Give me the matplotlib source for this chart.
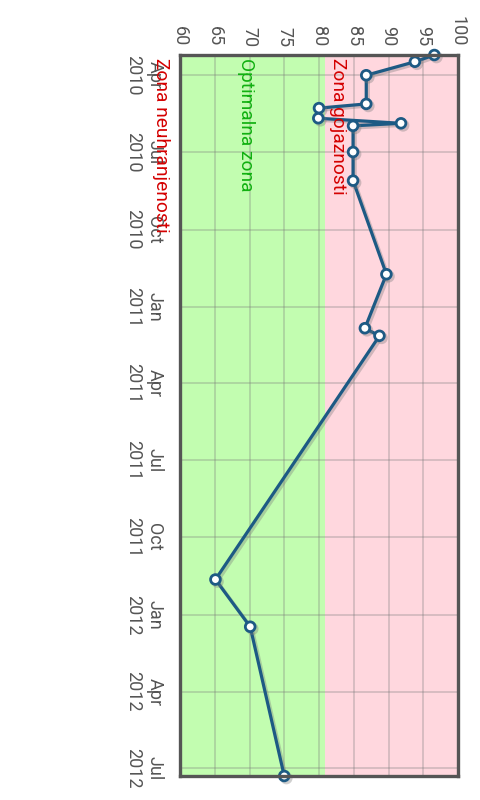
import matplotlib
matplotlib.use("Agg")
import matplotlib.pyplot as plt
import matplotlib.dates as mdates
import matplotlib.patheffects as pe
import matplotlib.transforms as mtransforms
import pandas as pd

plt.rcParams['font.family'] = ['Roboto', 'DejaVu Sans']

dates = ["2010-03-08", "2010-03-16", "2010-04-01", "2010-05-05", "2010-05-10",
         "2010-05-22", "2010-05-28", "2010-05-31", "2010-07-01", "2010-08-04",
         "2010-11-23", "2011-01-26", "2011-02-04", "2011-11-20", "2012-01-15",
         "2012-07-10"]
values = [96.6, 93.8, 86.8, 86.8, 80.0, 79.9, 91.8, 84.9, 84.9, 84.9,
          89.7, 86.6, 88.7, 65.1, 70.1, 75.0]

value_min, value_max = 60, 100
value_ticks = [60, 65, 70, 75, 80, 85, 90, 95, 100]
obesity_threshold = 80.85

zone_names = ["Zona gojaznosti", "Optimalna zona", "Zona neuhranjenosti"]
zone_label_values = [81.5, 68.2, 55.9]
zone_colors = ["#d40000", "#10b010", "#d40000"]

d = pd.to_datetime(dates)

fig = plt.figure(figsize=(4.8, 8), dpi=100)
ax = fig.add_axes([180 / 480, 1 - 776 / 800, (458 - 180) / 480, (776 - 55) / 800])

ax.plot(values, d, color="#1d5a84", lw=2.3, marker="o", markersize=7,
        markerfacecolor="white", markeredgecolor="#1d5a84", markeredgewidth=2.0,
        zorder=4, clip_on=False,
        path_effects=[pe.SimpleLineShadow(offset=(1.5, -1.5), shadow_color="#777777", alpha=0.35),
                      pe.Normal()])

ax.set_xlim(value_min, value_max)
ax.set_ylim(d[-1], d[0])

ax.axvspan(value_min, obesity_threshold, color="#c2fdb0", zorder=0, lw=0)
ax.axvspan(obesity_threshold, value_max, color="#ffd7de", zorder=0, lw=0)

ax.yaxis.set_major_locator(mdates.MonthLocator(bymonth=[1, 4, 7, 10]))
ax.yaxis.set_major_formatter(mdates.DateFormatter("%b\n%Y"))
ax.set_xticks(value_ticks)
ax.xaxis.tick_top()

ax.grid(True, color="#7a7a7a", alpha=0.35, lw=1.2, zorder=1)
ax.set_axisbelow(True)

ax.tick_params(axis="both", length=0, labelcolor="#555555")
ax.tick_params(axis="x", pad=6, labelrotation=-90, labelsize=13)
ax.tick_params(axis="y", pad=12, labelsize=13)
for lbl in ax.get_yticklabels():
    lbl.set_rotation(-90)
    lbl.set_multialignment("center")
    lbl.set_va("center")

for sp in ax.spines.values():
    sp.set_color("#555555")
    sp.set_linewidth(2.4)
    sp.set_zorder(5)

trans = mtransforms.blended_transform_factory(ax.transData, ax.transAxes)
for name, v, c in zip(zone_names, zone_label_values, zone_colors):
    ax.text(v, 0.996, name, transform=trans, rotation=-90, ha="left", va="top",
            color=c, fontsize=13.8, clip_on=False, zorder=6)

fig.savefig("out.png", dpi=100)
